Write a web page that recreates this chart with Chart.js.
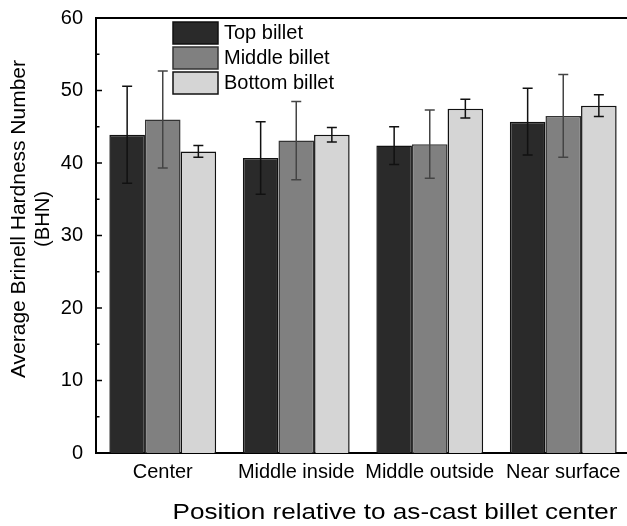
<!DOCTYPE html>
<html>
<head>
<meta charset="utf-8">
<script src="https://cdn.jsdelivr.net/npm/chart.js"></script>
<style>
  html, body { margin: 0; padding: 0; background: #fff; overflow: hidden; }
  #wrap { width: 640px; height: 526px; }
</style>
</head>
<body>
<div id="wrap"><canvas id="chart" width="640" height="526"></canvas></div>
<script>
// values
const categories = ['Center', 'Middle inside', 'Middle outside', 'Near surface'];
const seriesNames = ['Top billet', 'Middle billet', 'Bottom billet'];
const topMeans = [43.9, 40.7, 42.4, 45.7];
const topErrors = [6.7, 5.0, 2.6, 4.6];
const middleMeans = [46.0, 43.1, 42.6, 46.5];
const middleErrors = [6.7, 5.4, 4.7, 5.7];
const bottomMeans = [41.6, 43.9, 47.5, 47.9];
const bottomErrors = [0.8, 1.0, 1.3, 1.5];
const yMin = 0, yMax = 60, yStep = 10, yMinorStep = 5;
const xTitle = 'Position relative to as-cast billet center';
const yTitle = ['Average Brinell Hardness Number', '(BHN)'];

const FONT = "'Liberation Sans', Arial, sans-serif";
const fills = ['#2a2a2a', '#808080', '#d5d5d5'];
const edges = ['#111', '#333', '#111'];
const errColors = ['#111', '#444', '#111'];

// the source figure's titles are set wide, so stretch them to the measured length
function wideText(ctx, text, x, y, width) {
  const w = ctx.measureText(text).width;
  ctx.save();
  ctx.translate(x, y);
  ctx.scale(width / w, 1);
  ctx.fillText(text, 0, 0);
  ctx.restore();
}

const errorBars = {
  id: 'errorBars',
  afterDatasetsDraw(chart) {
    const { ctx, scales: { y } } = chart;
    chart.data.datasets.forEach((ds, i) => {
      const meta = chart.getDatasetMeta(i);
      ctx.save();
      ctx.strokeStyle = errColors[i];
      ctx.lineWidth = 1.5;
      meta.data.forEach((bar, j) => {
        const top = y.getPixelForValue(ds.data[j] + ds.errors[j]);
        const bot = y.getPixelForValue(ds.data[j] - ds.errors[j]);
        ctx.beginPath();
        ctx.moveTo(bar.x, top); ctx.lineTo(bar.x, bot);
        ctx.moveTo(bar.x - 5, top); ctx.lineTo(bar.x + 5, top);
        ctx.moveTo(bar.x - 5, bot); ctx.lineTo(bar.x + 5, bot);
        ctx.stroke();
      });
      ctx.restore();
    });
  }
};

const frame = {
  id: 'frame',
  afterDraw(chart) {
    const { ctx, chartArea: a, scales: { y } } = chart;
    ctx.save();
    ctx.strokeStyle = '#000';
    ctx.lineWidth = 2;
    ctx.beginPath();
    ctx.moveTo(a.left - 1, a.top); ctx.lineTo(a.right + 1, a.top);
    ctx.stroke();
    // inward ticks, major every 10, minor every 5
    ctx.lineWidth = 1.5;
    for (let v = yMin; v <= yMax; v += yMinorStep) {
      const py = y.getPixelForValue(v);
      const len = v % yStep === 0 ? 6 : 3.5;
      ctx.beginPath();
      ctx.moveTo(a.left, py); ctx.lineTo(a.left + len, py);
      ctx.stroke();
    }

    // legend inside the plot
    ctx.font = '20px ' + FONT;
    ctx.textBaseline = 'middle';
    ctx.textAlign = 'left';
    chart.data.datasets.forEach((ds, i) => {
      const bx = a.left + 77, by = a.top + 4 + i * 25;
      ctx.fillStyle = ds.backgroundColor;
      ctx.fillRect(bx, by, 45, 22);
      ctx.strokeStyle = ds.borderColor;
      ctx.lineWidth = 1.5;
      ctx.strokeRect(bx, by, 45, 22);
      ctx.fillStyle = '#000';
      ctx.fillText(ds.label, bx + 51, by + 11);
    });

    // axis titles
    ctx.fillStyle = '#000';
    ctx.textAlign = 'center';
    ctx.font = '22px ' + FONT;
    wideText(ctx, xTitle, 395, 513, 445);
    ctx.save();
    ctx.font = '20px ' + FONT;
    ctx.translate(19, 219);
    ctx.rotate(-Math.PI / 2);
    wideText(ctx, yTitle[0], 0, 0, 318);
    wideText(ctx, yTitle[1], 0, 24, 56);
    ctx.restore();
    ctx.restore();
  }
};

const makeSet = (i, data, errors) => ({
  label: seriesNames[i],
  data,
  errors,
  backgroundColor: fills[i],
  borderColor: edges[i],
  borderWidth: 1.5,
  categoryPercentage: 0.8,
  barPercentage: 1.0
});

new Chart(document.getElementById('chart'), {
  type: 'bar',
  data: {
    labels: categories,
    datasets: [
      makeSet(0, topMeans, topErrors),
      makeSet(1, middleMeans, middleErrors),
      makeSet(2, bottomMeans, bottomErrors)
    ]
  },
  options: {
    responsive: false,
    animation: false,
    layout: { padding: { top: 18, right: 10, left: 0, bottom: 0 } },
    plugins: { legend: { display: false }, tooltip: { enabled: false } },
    scales: {
      x: {
        grid: { display: false, drawTicks: false },
        border: { color: '#000', width: 2 },
        ticks: { color: '#000', font: { family: FONT, size: 20 }, padding: 7, maxRotation: 0, autoSkip: false },
        afterFit: s => { s.height = 73; s.paddingLeft = 0; s.paddingRight = 0; }
      },
      y: {
        min: yMin,
        max: yMax,
        grid: { display: false, drawTicks: false },
        border: { color: '#000', width: 2 },
        ticks: { stepSize: yStep, color: '#000', font: { family: FONT, size: 20 }, padding: 13 },
        afterFit: s => { s.width = 96; s.paddingTop = 0; s.paddingBottom = 0; }
      }
    }
  },
  plugins: [errorBars, frame]
});
</script>
</body>
</html>
